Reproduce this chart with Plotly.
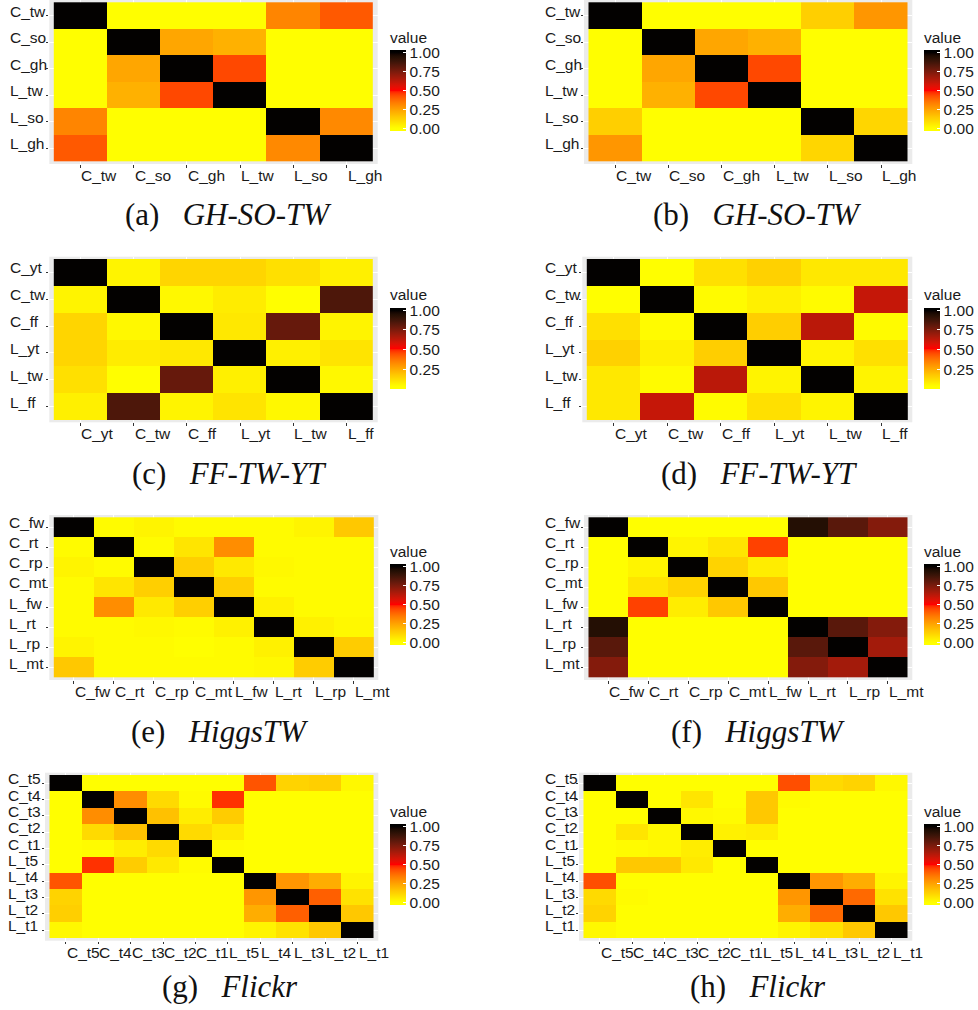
import numpy as np
import plotly.graph_objects as go

# ---------------------------------------------------------------- data
LABELS_GST = ["C_tw", "C_so", "C_gh", "L_tw", "L_so", "L_gh"]
LABELS_FTY = ["C_yt", "C_tw", "C_ff", "L_yt", "L_tw", "L_ff"]
LABELS_HIGGS = ["C_fw", "C_rt", "C_rp", "C_mt", "L_fw", "L_rt", "L_rp", "L_mt"]
LABELS_FLICKR = ["C_t5", "C_t4", "C_t3", "C_t2", "C_t1",
                 "L_t5", "L_t4", "L_t3", "L_t2", "L_t1"]

VALUES_A = [
    [1.00, 0.00, 0.00, 0.00, 0.32, 0.41],
    [0.00, 1.00, 0.24, 0.21, 0.00, 0.00],
    [0.00, 0.24, 1.00, 0.44, 0.00, 0.00],
    [0.00, 0.21, 0.44, 1.00, 0.00, 0.00],
    [0.32, 0.00, 0.00, 0.00, 1.00, 0.31],
    [0.41, 0.00, 0.00, 0.00, 0.31, 1.00],
]
VALUES_B = [
    [1.00, 0.00, 0.00, 0.00, 0.13, 0.28],
    [0.00, 1.00, 0.24, 0.21, 0.00, 0.00],
    [0.00, 0.24, 1.00, 0.44, 0.00, 0.00],
    [0.00, 0.21, 0.44, 1.00, 0.00, 0.00],
    [0.13, 0.00, 0.00, 0.00, 1.00, 0.11],
    [0.28, 0.00, 0.00, 0.00, 0.11, 1.00],
]
VALUES_C = [
    [1.00, 0.07, 0.15, 0.15, 0.12, 0.08],
    [0.07, 1.00, 0.06, 0.09, 0.04, 0.85],
    [0.15, 0.06, 1.00, 0.10, 0.80, 0.07],
    [0.15, 0.09, 0.10, 1.00, 0.08, 0.11],
    [0.12, 0.04, 0.80, 0.08, 1.00, 0.06],
    [0.08, 0.85, 0.07, 0.11, 0.06, 1.00],
]
VALUES_D = [
    [1.00, 0.04, 0.12, 0.16, 0.10, 0.10],
    [0.04, 1.00, 0.05, 0.08, 0.05, 0.62],
    [0.12, 0.05, 1.00, 0.17, 0.64, 0.05],
    [0.16, 0.08, 0.17, 1.00, 0.07, 0.12],
    [0.10, 0.05, 0.64, 0.07, 1.00, 0.07],
    [0.10, 0.62, 0.05, 0.12, 0.07, 1.00],
]
VALUES_E = [
    [1.00, 0.01, 0.03, 0.01, 0.01, 0.01, 0.03, 0.15],
    [0.01, 1.00, 0.01, 0.07, 0.30, 0.01, 0.01, 0.01],
    [0.03, 0.01, 1.00, 0.13, 0.06, 0.02, 0.01, 0.01],
    [0.01, 0.07, 0.13, 1.00, 0.13, 0.01, 0.01, 0.01],
    [0.01, 0.30, 0.06, 0.13, 1.00, 0.04, 0.01, 0.01],
    [0.01, 0.01, 0.02, 0.01, 0.04, 1.00, 0.04, 0.02],
    [0.03, 0.01, 0.01, 0.00, 0.01, 0.04, 1.00, 0.14],
    [0.15, 0.01, 0.01, 0.01, 0.01, 0.02, 0.14, 1.00],
]
VALUES_F = [
    [1.00, 0.00, 0.00, 0.00, 0.00, 0.94, 0.82, 0.73],
    [0.00, 1.00, 0.03, 0.07, 0.45, 0.00, 0.00, 0.00],
    [0.00, 0.03, 1.00, 0.12, 0.05, 0.00, 0.00, 0.00],
    [0.00, 0.07, 0.12, 1.00, 0.15, 0.00, 0.00, 0.00],
    [0.00, 0.45, 0.05, 0.15, 1.00, 0.00, 0.00, 0.00],
    [0.94, 0.00, 0.00, 0.00, 0.00, 1.00, 0.82, 0.73],
    [0.82, 0.00, 0.00, 0.00, 0.00, 0.82, 1.00, 0.67],
    [0.73, 0.00, 0.00, 0.00, 0.00, 0.73, 0.67, 1.00],
]
VALUES_G = [
    [1.00, 0.00, 0.00, 0.00, 0.00, 0.00, 0.42, 0.12, 0.13, 0.02],
    [0.00, 1.00, 0.30, 0.10, 0.01, 0.47, 0.00, 0.00, 0.00, 0.00],
    [0.00, 0.30, 1.00, 0.17, 0.05, 0.14, 0.00, 0.00, 0.00, 0.00],
    [0.00, 0.10, 0.17, 1.00, 0.10, 0.06, 0.00, 0.00, 0.00, 0.00],
    [0.00, 0.01, 0.05, 0.10, 1.00, 0.01, 0.00, 0.00, 0.00, 0.00],
    [0.00, 0.47, 0.14, 0.06, 0.01, 1.00, 0.00, 0.00, 0.00, 0.00],
    [0.42, 0.00, 0.00, 0.00, 0.00, 0.00, 1.00, 0.28, 0.22, 0.03],
    [0.12, 0.00, 0.00, 0.00, 0.00, 0.00, 0.28, 1.00, 0.40, 0.08],
    [0.13, 0.00, 0.00, 0.00, 0.00, 0.00, 0.22, 0.40, 1.00, 0.15],
    [0.02, 0.00, 0.00, 0.00, 0.00, 0.00, 0.03, 0.08, 0.15, 1.00],
]
VALUES_H = [
    [1.00, 0.00, 0.00, 0.00, 0.00, 0.00, 0.43, 0.10, 0.12, 0.02],
    [0.00, 1.00, 0.00, 0.07, 0.00, 0.15, 0.01, 0.00, 0.00, 0.00],
    [0.00, 0.00, 1.00, 0.02, 0.01, 0.15, 0.00, 0.00, 0.00, 0.00],
    [0.00, 0.07, 0.02, 1.00, 0.04, 0.05, 0.00, 0.00, 0.00, 0.00],
    [0.00, 0.01, 0.02, 0.05, 1.00, 0.00, 0.00, 0.00, 0.00, 0.00],
    [0.00, 0.15, 0.15, 0.06, 0.00, 1.00, 0.00, 0.00, 0.00, 0.00],
    [0.43, 0.00, 0.00, 0.00, 0.00, 0.00, 1.00, 0.28, 0.22, 0.03],
    [0.10, 0.01, 0.00, 0.00, 0.00, 0.00, 0.28, 1.00, 0.38, 0.08],
    [0.12, 0.00, 0.00, 0.00, 0.00, 0.00, 0.22, 0.38, 1.00, 0.15],
    [0.02, 0.00, 0.00, 0.00, 0.00, 0.00, 0.03, 0.08, 0.15, 1.00],
]

CAPTION_TAGS = ["(a)", "(b)", "(c)", "(d)", "(e)", "(f)", "(g)", "(h)"]
CAPTION_NAMES = ["GH-SO-TW", "GH-SO-TW", "FF-TW-YT", "FF-TW-YT",
                 "HiggsTW", "HiggsTW", "Flickr", "Flickr"]
LEGEND_BREAKS = [0.0, 0.25, 0.5, 0.75, 1.0]

# ---------------------------------------------------------------- colour helpers
W, H = 978, 1010


def srgb_to_lab(rgb):
    c = np.asarray(rgb, float)
    lin = np.where(c <= 0.04045, c / 12.92, ((c + 0.055) / 1.055) ** 2.4)
    m = np.array([[0.4124, 0.3576, 0.1805],
                  [0.2126, 0.7152, 0.0722],
                  [0.0193, 0.1192, 0.9505]])
    xyz = m @ lin / np.array([0.95047, 1.0, 1.08883])
    f = np.where(xyz > 0.008856, np.cbrt(xyz), 7.787 * xyz + 16 / 116)
    return np.array([116 * f[1] - 16, 500 * (f[0] - f[1]), 200 * (f[1] - f[2])])


def lab_to_srgb(lab):
    L, a, b = lab
    fy = (L + 16) / 116
    f = np.array([fy + a / 500, fy, fy - b / 200])
    xyz = np.where(f > 0.2069, f ** 3, (f - 16 / 116) / 7.787)
    xyz = xyz * np.array([0.95047, 1.0, 1.08883])
    m = np.array([[3.2406, -1.5372, -0.4986],
                  [-0.9689, 1.8758, 0.0415],
                  [0.0557, -0.2040, 1.0570]])
    lin = np.clip(m @ xyz, 0, 1)
    c = np.where(lin <= 0.0031308, 12.92 * lin, 1.055 * lin ** (1 / 2.4) - 0.055)
    return tuple(int(round(v * 255)) for v in np.clip(c, 0, 1))


ANCHORS = [srgb_to_lab((1, 1, 0)), srgb_to_lab((1, 0, 0)), srgb_to_lab((0, 0, 0))]


def heat(t):
    # yellow -> red -> black, interpolated in Lab space
    if t <= 0.5:
        s = t / 0.5
        lab = ANCHORS[0] + s * (ANCHORS[1] - ANCHORS[0])
    else:
        s = (t - 0.5) / 0.5
        lab = ANCHORS[1] + s * (ANCHORS[2] - ANCHORS[1])
    return lab_to_srgb(lab)


def scale_for(zmin, zmax, lo, hi, n=81):
    stops = []
    for s in np.linspace(0, 1, n):
        v = lo + s * (hi - lo)
        t = float(np.clip((v - zmin) / (zmax - zmin), 0, 1))
        r, g, b = heat(t)
        stops.append([float(s), f"rgb({r},{g},{b})"])
    return stops


# ---------------------------------------------------------------- layout of the panels
# (panel box left, top, right, bottom in px), y-label left px, colourbar (left, top) px, caption centre px
PANELS = [
    dict(labels=LABELS_GST, z=VALUES_A, box=(49.3, 0, 377.7, 164), ylab=9.3, cbar=(390, 49), cap=(228, 215)),
    dict(labels=LABELS_GST, z=VALUES_B, box=(584, 0, 912.3, 164), ylab=544, cbar=(924, 49), cap=(757, 215)),
    dict(labels=LABELS_FTY, z=VALUES_C, box=(49.3, 256.7, 377.7, 422.3), ylab=9.3, cbar=(390, 306.7), cap=(229, 473)),
    dict(labels=LABELS_FTY, z=VALUES_D, box=(582.3, 256.7, 912.3, 422.3), ylab=544, cbar=(924, 306.7), cap=(759, 473)),
    dict(labels=LABELS_HIGGS, z=VALUES_E, box=(49.3, 515, 378.3, 680), ylab=8.3, cbar=(390, 563.3), cap=(220, 731)),
    dict(labels=LABELS_HIGGS, z=VALUES_F, box=(584, 515, 912.3, 680), ylab=544, cbar=(924, 563.3), cap=(758, 731)),
    dict(labels=LABELS_FLICKR, z=VALUES_G, box=(45, 772.7, 378.3, 940.7), ylab=7.3, cbar=(390, 823.3), cap=(230, 986)),
    dict(labels=LABELS_FLICKR, z=VALUES_H, box=(579, 772.7, 912.3, 940.7), ylab=544, cbar=(924, 823.3), cap=(758, 986)),
]

PAD_X, PAD_Y = 4.5, 2.3          # grey margin around the tiles, px
BAR_LEN, BAR_W = 81.7, 16        # colourbar size, px
TITLE_H = 21                     # room the "value" title takes inside the colourbar length
BAR_EXT = 2.5 / (BAR_LEN - 5)    # ggplot-style bar overhang beyond the data range

SANS = "Liberation Sans, Arial, sans-serif"
SERIF = "Liberation Serif, Times New Roman, serif"
TXT = "#1a1a1a"
FS = 15.5
FS_LEG = 15.5

fig = go.Figure()
annotations = []
layout_axes = {}

for i, p in enumerate(PANELS):
    k = "" if i == 0 else str(i + 1)
    xa, ya = "x" + k, "y" + k
    labels, z = p["labels"], np.array(p["z"], float)
    n = len(labels)
    x0, y0, x1, y1 = p["box"]

    cw = (x1 - x0 - 2 * PAD_X) / n
    ch = (y1 - y0 - 2 * PAD_Y) / n
    ex, ey = PAD_X / cw, PAD_Y / ch

    layout_axes["xaxis" + k] = dict(
        domain=[x0 / W, x1 / W], anchor=ya, range=[-0.5 - ex, n - 0.5 + ex],
        tickvals=list(range(n)), showticklabels=False, ticks="outside", ticklen=2.5,
        tickcolor="#333333", tickwidth=1, showgrid=True, gridcolor="white", gridwidth=1,
        zeroline=False, showline=False, fixedrange=True)
    layout_axes["yaxis" + k] = dict(
        domain=[1 - y1 / H, 1 - y0 / H], anchor=xa, range=[n - 0.5 + ey, -0.5 - ey],
        tickvals=list(range(n)), showticklabels=False, ticks="outside", ticklen=2.5,
        tickcolor="#333333", tickwidth=1, showgrid=True, gridcolor="white", gridwidth=1,
        zeroline=False, showline=False, fixedrange=True)

    zmin, zmax = float(z.min()), float(z.max())
    lo = zmin - BAR_EXT * (zmax - zmin)
    hi = zmax + BAR_EXT * (zmax - zmin)
    bx, by = p["cbar"]
    fig.add_trace(go.Heatmap(
        z=z, x=list(range(n)), y=list(range(n)), xaxis=xa, yaxis=ya,
        zmin=lo, zmax=hi, colorscale=scale_for(zmin, zmax, lo, hi),
        hoverinfo="skip",
        colorbar=dict(
            x=bx / W, xanchor="left", y=1 - (by - TITLE_H) / H, yanchor="top",
            len=BAR_LEN + TITLE_H, lenmode="pixels", thickness=BAR_W, thicknessmode="pixels",
            xpad=0, ypad=0, outlinewidth=0, ticks="inside", ticklen=3,
            tickcolor="white", tickwidth=1,
            tickvals=LEGEND_BREAKS, ticktext=[f"{v:.2f}" for v in LEGEND_BREAKS],
            tickfont=dict(family=SANS, size=FS_LEG, color=TXT),
            title=dict(text="value", side="top", font=dict(family=SANS, size=FS_LEG, color=TXT)),
        ),
    ))

    for j, lab in enumerate(labels):
        # x labels start at their tick
        annotations.append(dict(
            text=lab, x=j, xref=xa, y=1 - (y1 + 11.5) / H, yref="paper",
            xanchor="left", yanchor="middle", xshift=-1, showarrow=False,
            font=dict(family=SANS, size=FS, color=TXT)))
        # y labels are left-aligned in their column, sitting just above the tick
        annotations.append(dict(
            text=lab, x=p["ylab"] / W, xref="paper", y=j, yref=ya,
            xanchor="left", yanchor="middle", yshift=4.5, xshift=-1, showarrow=False,
            font=dict(family=SANS, size=FS, color=TXT)))

    cx, cy = p["cap"]
    annotations.append(dict(
        text=f"{CAPTION_TAGS[i]}\u2002 <i>{CAPTION_NAMES[i]}</i>",
        x=cx / W, xref="paper", y=1 - cy / H, yref="paper",
        xanchor="center", yanchor="middle", showarrow=False,
        font=dict(family=SERIF, size=31, color="#111111")))

fig.update_layout(
    width=W, height=H, margin=dict(l=0, r=0, t=0, b=0),
    paper_bgcolor="white", plot_bgcolor="#EBEBEB",
    showlegend=False, annotations=annotations, **layout_axes)

fig.write_html("out.html")
